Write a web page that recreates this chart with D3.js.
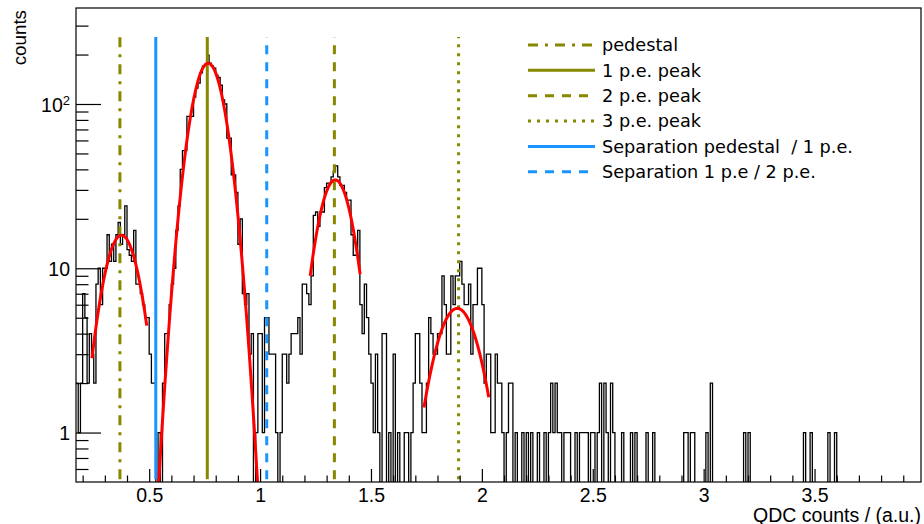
<!DOCTYPE html>
<html>
<head>
<meta charset="utf-8">
<script src="https://cdn.jsdelivr.net/npm/d3@7"></script>
<style>
  html, body { margin: 0; padding: 0; background: #fff; }
  svg { display: block; }
</style>
</head>
<body>
<svg id="chart" width="924" height="524"></svg>
<script>
// ---- histogram: QDC spectrum, fixed-width bins starting at binStart ----
const binStart = 0.17;
const binWidth = 0.01;
const counts = [
  // 0.17 - 0.53 : pedestal
  2, 1, 2, 7, 5, 2, 4, 3, 2, 8, 10, 6, 10, 10, 16, 11, 14, 11, 16, 19,
  14, 16, 24, 13, 12, 11, 17, 8, 8, 7, 6, 5, 5, 3, 2, 2,
  // 0.53 - 1.03 : 1 p.e.
  0, 1, 0, 2, 4, 4, 6, 8, 10, 17, 24, 40, 52, 52, 84, 84, 84, 110, 125, 134,
  155, 170, 172, 198, 177, 170, 165, 150, 145, 130, 106, 100, 62, 62, 37, 37, 29, 14, 20, 7,
  6, 7, 3, 4, 0, 1, 4, 4, 1, 5, 5, 3, 3, 3, 1, 0, 1, 3, 3, 2,
  3, 4, 4, 4, 5, 3, 8, 8, 7, 6, 9,
  // 1.24 - 1.57 : 2 p.e.
  21, 22, 18, 22, 22, 31, 33, 33, 36, 39, 42, 36, 32, 32, 29, 26, 26, 16, 12, 12,
  17, 6, 4, 8, 5, 3, 2, 1, 3, 1, 0, 4, 4,
  // 1.57 - 2.14 : 3 p.e.
  0, 1, 0, 3, 0, 1, 0, 0, 1, 1, 0, 1, 2, 4, 4, 2, 1, 1, 2, 5,
  4, 3, 3, 4, 4, 9, 6, 3, 3, 9, 6, 9, 9, 11, 8, 6, 6, 8, 3, 6,
  6, 10, 10, 6, 2, 3, 3, 1, 1, 3, 2, 2, 1, 0, 1, 2, 2,
  // 2.14 - 3.97 : tail
  0, 1, 0, 0, 1, 0, 1, 0, 1, 0, 0, 1, 0, 0, 1, 0, 1, 2, 1, 2,
  1, 1, 0, 1, 1, 1, 0, 0, 1, 0, 1, 1, 1, 1, 0, 1, 1, 0, 1, 2,
  0, 2, 1, 0, 2, 1, 0, 0, 0, 1, 0, 0, 0, 1, 0, 1, 0, 0, 0, 0,
  1, 0, 0, 1, 0, 0, 0, 0, 0, 0, 0, 0, 0, 0, 0, 0, 0, 1, 1, 0,
  1, 1, 0, 0, 0, 0, 0, 1, 0, 2, 0, 0, 0, 0, 0, 0, 0, 0, 0, 0,
  0, 0, 0, 0, 1, 0, 1, 0, 0, 0, 0, 0, 0, 0, 0, 0, 0, 0, 0, 0,
  0, 0, 0, 0, 0, 0, 0, 0, 0, 0, 0, 1, 0, 0, 1, 0, 0, 0, 0, 0,
  0, 0, 1, 0, 0, 1, 0, 0, 0, 0, 0, 0, 0, 0, 0, 0, 0, 0, 0, 0,
  0, 0, 0, 0, 0, 0, 0, 0, 0, 0, 0, 0, 0, 0, 0, 0, 0, 0, 0, 0,
  0, 0, 0, 0
];

// ---- gaussian fits (constant, mean, sigma, fit range) ----
const fitConstants = [15.9, 177, 34.5, 5.7];
const fitMeans     = [0.375, 0.7658, 1.339, 1.889];
const fitSigmas    = [0.0716, 0.065, 0.0689, 0.090];
const fitLows      = [0.242, 0.53, 1.226, 1.739];
const fitHighs     = [0.489, 1.03, 1.451, 2.031];

// ---- vertical markers and legend ----
const markerLabels = ["pedestal", "1 p.e. peak", "2 p.e. peak", "3 p.e. peak",
                      "Separation pedestal  / 1 p.e.", "Separation 1 p.e / 2 p.e."];
const markerPositions = [0.368, 0.762, 1.335, 1.895, 0.5297, 1.030];
const markerSpan = [0.52, 256];

// ---- axes ----
const xMajorTicks = [0.5, 1, 1.5, 2, 2.5, 3, 3.5];
const xTickLabels = ["0.5", "1", "1.5", "2", "2.5", "3", "3.5"];
const yMajorTicks = [1, 10, 100];
const xTitle = "QDC counts / (a.u.)";
const yTitle = "counts";

// ---------------------------------------------------------------
const W = 924, H = 524;
const frame = { left: 76, top: 8, right: 921, bottom: 482 };
const xDomain = [binStart, binStart + counts.length * binWidth];
const yDomain = [0.5, 384];

const x = d3.scaleLinear().domain(xDomain).range([frame.left, frame.right]);
const y = d3.scaleLog().domain(yDomain).range([frame.bottom, frame.top]);

const svg = d3.select("#chart");
svg.append("rect").attr("width", W).attr("height", H).attr("fill", "#fff");

svg.append("defs").append("clipPath").attr("id", "plotClip")
  .append("rect")
  .attr("x", frame.left).attr("y", frame.top)
  .attr("width", frame.right - frame.left)
  .attr("height", frame.bottom - frame.top);

const olive = "#878700";
const azure = "#1a94ff";
const markerStyles = [
  { color: olive, dash: "10,7,3,7" },
  { color: olive, dash: null },
  { color: olive, dash: "9,8" },
  { color: olive, dash: "3,6" },
  { color: azure, dash: null },
  { color: azure, dash: "9,8" }
];

const plot = svg.append("g").attr("clip-path", "url(#plotClip)");

// histogram outline (empty bins drop to the bottom of the frame)
const floor = yDomain[0] * 0.9;
const stepPoints = counts.map((c, i) => [binStart + i * binWidth, c > 0 ? c : floor]);
stepPoints.push([binStart + counts.length * binWidth, counts[counts.length - 1] > 0 ? counts[counts.length - 1] : floor]);
const stepLine = d3.line()
  .x(d => x(d[0]))
  .y(d => y(d[1]))
  .curve(d3.curveStepAfter);
plot.append("path")
  .attr("d", stepLine(stepPoints))
  .attr("fill", "none")
  .attr("stroke", "#000")
  .attr("stroke-width", 1.3);

// vertical marker lines
markerPositions.forEach((pos, i) => {
  plot.append("line")
    .attr("x1", x(pos)).attr("x2", x(pos))
    .attr("y1", y(markerSpan[0])).attr("y2", y(markerSpan[1]))
    .attr("stroke", markerStyles[i].color)
    .attr("stroke-width", 3)
    .attr("stroke-dasharray", markerStyles[i].dash);
});

// gaussian fit curves
const fitLine = d3.line().x(d => x(d[0])).y(d => y(d[1]));
fitConstants.forEach((a, k) => {
  const pts = d3.range(0, 301).map(j => {
    const v = fitLows[k] + (fitHighs[k] - fitLows[k]) * j / 300;
    const g = a * Math.exp(-0.5 * Math.pow((v - fitMeans[k]) / fitSigmas[k], 2));
    return [v, Math.max(g, 0.05)];
  });
  plot.append("path")
    .attr("d", fitLine(pts))
    .attr("fill", "none")
    .attr("stroke", "#ff0000")
    .attr("stroke-width", 3);
});

// frame
svg.append("rect")
  .attr("x", frame.left).attr("y", frame.top)
  .attr("width", frame.right - frame.left)
  .attr("height", frame.bottom - frame.top)
  .attr("fill", "none").attr("stroke", "#000").attr("stroke-width", 1.2);

const axisFont = "'Liberation Sans', Arial, Helvetica, sans-serif";
const labelSize = 19.5;

// x axis: ticks point up into the frame
const xMinor = d3.range(2, 40).map(k => k / 10).filter(v => v < xDomain[1] && Math.abs(v * 2 - Math.round(v * 2)) > 1e-6);
const xAxisMinor = d3.axisBottom(x).tickValues(xMinor).tickSizeInner(-6.5).tickSizeOuter(0).tickFormat("");
const xAxisMajor = d3.axisBottom(x).tickValues(xMajorTicks).tickSizeInner(-13).tickSizeOuter(0)
  .tickPadding(6.5).tickFormat((d, i) => xTickLabels[i]);
const gxMinor = svg.append("g").attr("transform", `translate(0,${frame.bottom})`).call(xAxisMinor);
const gx = svg.append("g").attr("transform", `translate(0,${frame.bottom})`).call(xAxisMajor);
[gxMinor, gx].forEach(g => {
  g.select(".domain").remove();
  g.selectAll(".tick line").attr("stroke", "#000").attr("stroke-width", 1.2);
});
gx.selectAll(".tick text")
  .attr("font-family", axisFont).attr("font-size", labelSize).attr("fill", "#000");

// y axis: ticks point right into the frame
const yMinor = [0.6, 0.7, 0.8, 0.9, 2, 3, 4, 5, 6, 7, 8, 9, 20, 30, 40, 50, 60, 70, 80, 90, 200, 300];
const yAxisMinor = d3.axisLeft(y).tickValues(yMinor).tickSizeInner(-12.5).tickSizeOuter(0).tickFormat("");
const yAxisMajor = d3.axisLeft(y).tickValues(yMajorTicks).tickSizeInner(-25).tickSizeOuter(0)
  .tickFormat("");
const gyMinor = svg.append("g").attr("transform", `translate(${frame.left},0)`).call(yAxisMinor);
const gy = svg.append("g").attr("transform", `translate(${frame.left},0)`).call(yAxisMajor);
[gyMinor, gy].forEach(g => {
  g.select(".domain").remove();
  g.selectAll(".tick line").attr("stroke", "#000").attr("stroke-width", 1.2);
});
// decade labels: 1, 10, 10^2
gy.selectAll(".tick").each(function (d) {
  const e = Math.round(Math.log10(d));
  const t = d3.select(this).append("text")
    .attr("x", -6).attr("dy", "0.36em")
    .attr("text-anchor", "end")
    .attr("font-family", axisFont).attr("font-size", labelSize).attr("fill", "#000");
  if (e <= 1) {
    t.text(String(d));
  } else {
    t.append("tspan").text("10");
    t.append("tspan").attr("dy", "-0.5em").attr("font-size", 13).text(String(e));
  }
});

// axis titles
svg.append("text")
  .attr("x", frame.right).attr("y", 521.5)
  .attr("text-anchor", "end")
  .attr("font-family", axisFont).attr("font-size", 19.5).attr("fill", "#000")
  .text(xTitle);
svg.append("text")
  .attr("transform", `translate(25.5,${frame.top + 2}) rotate(-90)`)
  .attr("text-anchor", "end")
  .attr("font-family", axisFont).attr("font-size", 18.8).attr("fill", "#000")
  .text(yTitle);

// legend
const legend = svg.append("g");
const legendTop = 45, legendStep = 25.35;
markerLabels.forEach((label, i) => {
  const ly = legendTop + i * legendStep;
  legend.append("line")
    .attr("x1", 528).attr("x2", 595).attr("y1", ly).attr("y2", ly)
    .attr("stroke", markerStyles[i].color).attr("stroke-width", 3)
    .attr("stroke-dasharray", markerStyles[i].dash);
  legend.append("text")
    .attr("x", 602).attr("y", ly).attr("dy", "0.36em")
    .attr("font-family", "'DejaVu Sans', sans-serif").attr("font-size", 17.7)
    .attr("fill", "#000")
    .style("white-space", "pre")
    .text(label);
});
</script>
</body>
</html>
